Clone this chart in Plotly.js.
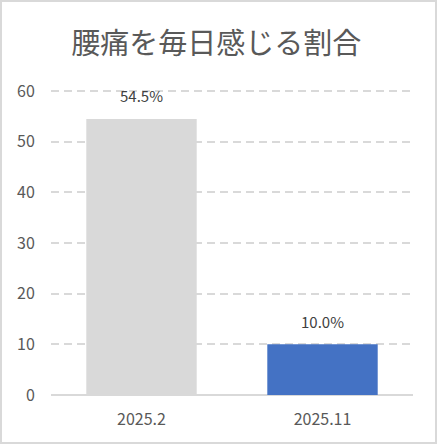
<!DOCTYPE html>
<html>
<head>
<meta charset="utf-8">
<script src="https://cdn.plot.ly/plotly-3.0.1.min.js"></script>
<style>
html,body{margin:0;padding:0;background:#fff;}
#wrap{position:absolute;left:0;top:0;width:437px;height:444px;box-sizing:border-box;border:2px solid #d9d9d9;background:#fff;}
#chart{width:433px;height:440px;}
</style>
</head>
<body>
<div id="wrap"><div id="chart"></div></div>
<script>
const categories = ["2025.2", "2025.11"];
const values = [54.5, 10.0];
const labels = ["54.5%", "10.0%"];
const barColors = ["#d9d9d9", "#4472c4"];
const yTicks = [0, 10, 20, 30, 40, 50, 60];
const titleText = "腰痛を毎日感じる割合";

const font = "'Noto Sans CJK JP', 'Noto Sans', sans-serif";
const xs = categories.map((c, i) => i);

const trace = {
  type: "bar",
  x: xs,
  y: values,
  width: 0.61,
  marker: {color: barColors},
  hoverinfo: "skip"
};

const annotations = xs.map((x, i) => ({
  x: x, y: values[i], xref: "x", yref: "y",
  text: labels[i], showarrow: false,
  yanchor: "middle", yshift: 23,
  font: {family: font, size: 15, color: "#404040"}
}));

const layout = {
  width: 433, height: 440,
  margin: {l: 49, r: 22, t: 88, b: 47},
  paper_bgcolor: "#fff", plot_bgcolor: "#fff",
  showlegend: false,
  title: {text: titleText, x: 0.495, xanchor: "center", y: 0.905, yanchor: "middle",
          font: {family: font, size: 29, color: "#595959"}},
  xaxis: {
    range: [-0.5, 1.5],
    tickvals: xs, ticktext: categories,
    showgrid: false, zeroline: false,
    showline: false, ticks: "outside", ticklen: 10, tickcolor: "rgba(0,0,0,0)",
    tickfont: {family: font, size: 16, color: "#595959"}
  },
  yaxis: {
    range: [0, 60.2], tickvals: yTicks, ticktext: yTicks.map(String),
    showgrid: true, gridcolor: "#d9d9d9", gridwidth: 2, griddash: "8px,5px",
    zeroline: true, zerolinecolor: "#d9d9d9", zerolinewidth: 2,
    showline: false, ticks: "outside", ticklen: 12, tickcolor: "rgba(0,0,0,0)",
    tickfont: {family: font, size: 16, color: "#595959"}
  },
  annotations: annotations
};

Plotly.newPlot("chart", [trace], layout, {staticPlot: true, displayModeBar: false});
</script>
</body>
</html>
